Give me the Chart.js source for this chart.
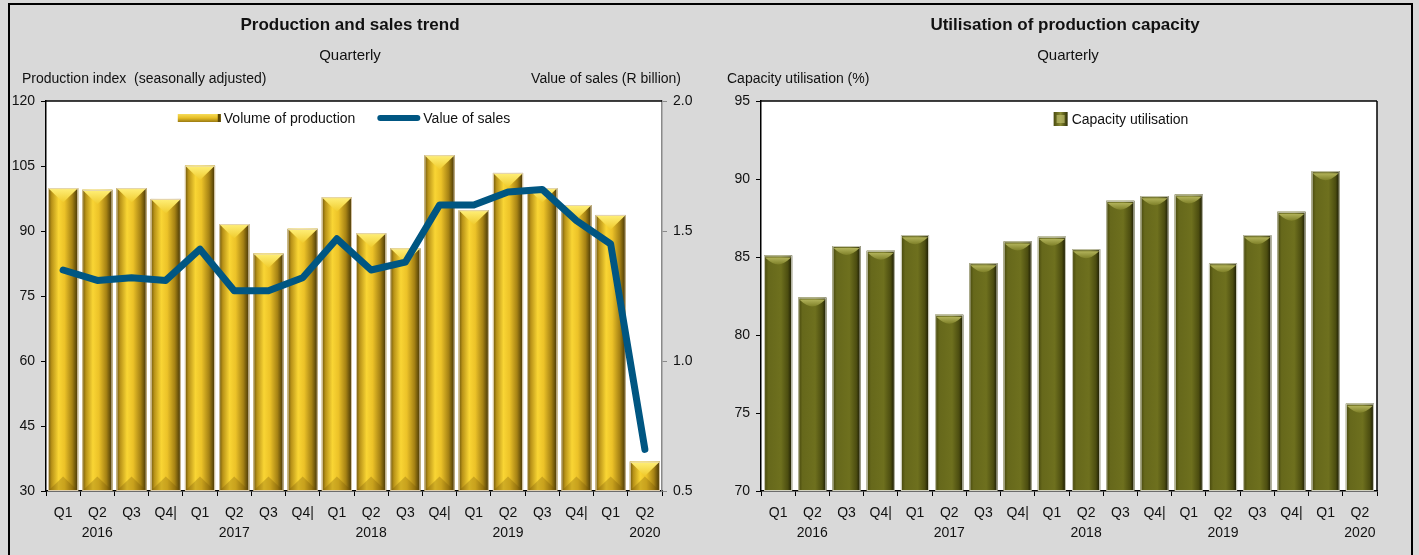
<!DOCTYPE html>
<html>
<head>
<meta charset="utf-8">
<script src="https://cdn.jsdelivr.net/npm/chart.js@4.4.0/dist/chart.umd.min.js"></script>
<style>
  body { margin: 0; width: 1419px; height: 555px; overflow: hidden; position: relative; background: #d9d9d9;
         font-family: "Liberation Sans Narrow", "Arial Narrow", Arial, sans-serif; color: #111; }
  .frame { position: absolute; left: 8px; top: 3px; width: 1401px; height: 600px; border: 2px solid #000; }
  .box { position: absolute; top: 0; height: 555px; }
  .t { position: absolute; white-space: nowrap; font-size: 14px; line-height: 16px; }
  .title { font-weight: bold; font-size: 17px; line-height: 20px; }
  .sub { font-size: 15px; line-height: 18px; }
</style>
</head>
<body>
<div class="frame"></div>
<div class="box" style="left:0;width:710px"><canvas id="prodChart" width="710" height="555"></canvas></div>
<div class="box" style="left:710px;width:709px"><canvas id="capChart" width="709" height="555"></canvas></div>

<div class="t title" style="left:350px;top:15px;transform:translateX(-50%)">Production and sales trend</div>
<div class="t sub" style="left:350px;top:46px;transform:translateX(-50%)">Quarterly</div>
<div class="t" style="left:22px;top:70px">Production index&nbsp; (seasonally adjusted)</div>
<div class="t" style="right:738px;top:70px">Value of sales (R billion)</div>

<div class="t title" style="left:1065px;top:15px;transform:translateX(-50%)">Utilisation of production capacity</div>
<div class="t sub" style="left:1068px;top:46px;transform:translateX(-50%)">Quarterly</div>
<div class="t" style="left:727px;top:70px">Capacity utilisation (%)</div>

<script>
const quarters = ["Q1", "Q2", "Q3", "Q4|", "Q1", "Q2", "Q3", "Q4|", "Q1", "Q2", "Q3", "Q4|",
                  "Q1", "Q2", "Q3", "Q4|", "Q1", "Q2"];
const years = ["2016", "2017", "2018", "2019", "2020"];

// production index (left axis) and value of sales in R billion (right axis)
const productionVolume = [99.9, 99.5, 99.9, 97.4, 105.1, 91.6, 84.8, 90.5, 97.8, 89.5, 86.0, 107.5,
                          94.8, 103.4, 99.9, 96.0, 93.7, 36.8];
const salesValue = [1.35, 1.31, 1.32, 1.31, 1.43, 1.27, 1.27, 1.32, 1.47, 1.35, 1.38, 1.60,
                    1.60, 1.65, 1.66, 1.54, 1.45, 0.66];
// capacity utilisation (%)
const capacityUtil = [85.1, 82.4, 85.7, 85.4, 86.4, 81.3, 84.6, 86.0, 86.3, 85.5, 88.6, 88.9,
                      89.0, 84.6, 86.4, 87.9, 90.5, 75.6];

const prodTicks = [30, 120, 15];
const salesTicks = [0.5, 2.0, 0.5];
const capTicks = [70, 95, 5];

const labels = quarters.map((q, i) => i % 4 === 1 ? [q, years[(i - 1) / 4]] : q);

const FONT = '"Liberation Sans Narrow", "Arial Narrow", Arial, sans-serif';
const tickFont = { family: FONT, size: 14 };

// white plot area with a frame
const plotFrame = {
  id: "plotFrame",
  beforeDraw(chart, args, opts) {
    const { ctx, chartArea: a } = chart;
    ctx.save();
    ctx.fillStyle = "#fff";
    ctx.fillRect(a.left, a.top, a.right - a.left, a.bottom - a.top);
    ctx.restore();
  },
  afterDraw(chart, args, opts) {
    const { ctx, chartArea: a } = chart;
    ctx.save();
    ctx.strokeStyle = "#000";
    ctx.lineWidth = 1.5;
    ctx.beginPath();
    ctx.moveTo(a.left, a.top);
    ctx.lineTo(a.right, a.top);
    ctx.stroke();
    if (opts.rightColor) {
      ctx.strokeStyle = opts.rightColor;
      ctx.beginPath();
      ctx.moveTo(a.right, a.top);
      ctx.lineTo(a.right, a.bottom);
      ctx.stroke();
    }
    ctx.restore();
  }
};

function goldBar(ctx, x, y, base, w) {
  const l = x - w / 2, r = x + w / 2, h = base - y;
  const g = ctx.createLinearGradient(l, 0, r, 0);
  g.addColorStop(0, "#6a540a");
  g.addColorStop(0.12, "#b89218");
  g.addColorStop(0.35, "#f9d534");
  g.addColorStop(0.55, "#ecc228");
  g.addColorStop(0.8, "#a68214");
  g.addColorStop(1, "#403104");
  ctx.fillStyle = g;
  ctx.fillRect(l, y, w, h);
  const d = Math.min(w * 0.48, h / 2);
  const cg = ctx.createLinearGradient(0, y, 0, y + d);
  cg.addColorStop(0, "#fff07a");
  cg.addColorStop(1, "#f0cb2c");
  ctx.fillStyle = cg;
  ctx.beginPath();
  ctx.moveTo(l, y); ctx.lineTo(r, y); ctx.lineTo(x, y + d); ctx.closePath();
  ctx.fill();
  ctx.fillStyle = "rgba(110, 80, 0, 0.28)";
  ctx.beginPath();
  ctx.moveTo(l, base); ctx.lineTo(r, base); ctx.lineTo(x, base - d); ctx.closePath();
  ctx.fill();
  ctx.strokeStyle = "rgba(225, 210, 180, 0.95)";
  ctx.lineWidth = 1;
  ctx.strokeRect(l + 0.5, y + 0.5, w - 1, h - 1);
}

function oliveBar(ctx, x, y, base, w) {
  const l = x - w / 2, r = x + w / 2, h = base - y;
  const g = ctx.createLinearGradient(l, 0, r, 0);
  g.addColorStop(0, "#45460c");
  g.addColorStop(0.15, "#66681b");
  g.addColorStop(0.6, "#6e701e");
  g.addColorStop(0.85, "#4c4d10");
  g.addColorStop(1, "#161602");
  ctx.fillStyle = g;
  ctx.fillRect(l, y, w, h);
  const d = Math.min(9, h / 2);
  const cg = ctx.createLinearGradient(0, y, 0, y + d);
  cg.addColorStop(0, "#c2c26a");
  cg.addColorStop(1, "#7e8028");
  ctx.fillStyle = cg;
  ctx.beginPath();
  ctx.moveTo(l + 1, y + 2);
  ctx.lineTo(r - 1, y + 2);
  ctx.quadraticCurveTo(x + w * 0.2, y + d, x, y + d);
  ctx.quadraticCurveTo(x - w * 0.2, y + d, l + 1, y + 2);
  ctx.closePath();
  ctx.fill();
  ctx.strokeStyle = "rgba(215, 215, 200, 0.95)";
  ctx.lineWidth = 1;
  ctx.strokeRect(l + 0.5, y + 0.5, w - 1, h - 1);
}

// repaint bars with a cylinder-like shading, using the bar elements' own geometry
const barShade = {
  id: "barShade",
  afterDatasetDraw(chart, args, opts) {
    const meta = args.meta;
    if (meta.type !== "bar") return;
    const { ctx, chartArea: a } = chart;
    ctx.save();
    ctx.beginPath();
    ctx.rect(a.left, a.top, a.right - a.left, a.bottom - a.top);
    ctx.clip();
    meta.data.forEach(el => {
      const p = el.getProps(["x", "y", "base", "width"], true);
      opts.paint(ctx, p.x, p.y, Math.min(p.base, a.bottom), p.width);
    });
    ctx.restore();
  }
};

// legend swatches
function goldSwatch(ctx, x, y, w, ds) {
  const g = ctx.createLinearGradient(0, y - 4, 0, y + 4);
  g.addColorStop(0, "#f6dc5a");
  g.addColorStop(0.5, "#e6bd24");
  g.addColorStop(1, "#9a7a12");
  ctx.fillStyle = g;
  ctx.fillRect(x, y - 4, w, 8);
  ctx.fillStyle = "#5a4606";
  ctx.fillRect(x + w - 3, y - 4, 3, 8);
}
function lineSwatch(ctx, x, y, w, ds) {
  ctx.strokeStyle = ds.borderColor;
  ctx.lineWidth = 6;
  ctx.lineCap = "round";
  ctx.beginPath();
  ctx.moveTo(x + 3, y);
  ctx.lineTo(x + w - 3, y);
  ctx.stroke();
}
function oliveSwatch(ctx, x, y, w, ds) {
  const g = ctx.createLinearGradient(x, 0, x + w, 0);
  g.addColorStop(0, "#4a4b10");
  g.addColorStop(0.5, "#8a8c34");
  g.addColorStop(1, "#2e2f06");
  ctx.fillStyle = g;
  ctx.fillRect(x, y - 7, w, 14);
  ctx.fillStyle = "rgba(190, 190, 110, 0.7)";
  ctx.fillRect(x + 3, y - 4, w - 6, 8);
}

// legend drawn inside the plot area, centred (with an offset)
const inLegend = {
  id: "inLegend",
  afterDraw(chart, args, opts) {
    const { ctx, chartArea: a } = chart;
    ctx.save();
    ctx.font = "14px " + FONT;
    ctx.textBaseline = "middle";
    const items = opts.items.map(it => Object.assign({ ds: chart.data.datasets[it.index] }, it));
    const widths = items.map(it => it.boxWidth + opts.gap + ctx.measureText(it.ds.label).width);
    const total = widths.reduce((s, w) => s + w, 0) + opts.spacing * (items.length - 1);
    let x = (a.left + a.right) / 2 - total / 2 + opts.dx;
    const y = a.top + opts.dy;
    items.forEach((it, k) => {
      it.swatch(ctx, x, y, it.boxWidth, it.ds);
      ctx.fillStyle = "#111";
      ctx.fillText(it.ds.label, x + it.boxWidth + opts.gap, y + 1);
      x += widths[k] + opts.spacing;
    });
    ctx.restore();
  }
};

function xScale() {
  return {
    grid: { display: true, drawOnChartArea: false, tickLength: 5, color: "#000", offset: true },
    border: { color: "#000", width: 1.5 },
    ticks: { color: "#111", font: { family: FONT, size: 14, lineHeight: 1.42 }, maxRotation: 0, autoSkip: false, padding: 7 },
    afterFit(s) { s.height = 64; }
  };
}

function yScale(t, width, position, color, fmt) {
  return {
    position: position,
    min: t[0], max: t[1],
    grid: { display: true, drawOnChartArea: false, tickLength: 5, color: color },
    border: { color: color, width: 1.5 },
    ticks: { stepSize: t[2], color: "#111", font: tickFont, padding: 6, callback: fmt },
    afterFit(s) { s.width = width; }
  };
}

new Chart(document.getElementById("prodChart"), {
  data: {
    labels: labels,
    datasets: [
      {
        type: "line",
        label: "Value of sales",
        data: salesValue,
        yAxisID: "y1",
        borderColor: "#005682",
        backgroundColor: "#005682",
        borderWidth: 7,
        borderCapStyle: "round",
        borderJoinStyle: "round",
        pointRadius: 0,
        tension: 0,
        order: 0
      },
      {
        type: "bar",
        label: "Volume of production",
        data: productionVolume,
        yAxisID: "y",
        backgroundColor: "#e3bd26",
        borderWidth: 0,
        barPercentage: 0.88,
        categoryPercentage: 1,
        order: 1
      }
    ]
  },
  options: {
    responsive: false,
    animation: false,
    devicePixelRatio: 1,
    layout: { padding: { top: 101, left: 0, right: 0, bottom: 0 } },
    scales: {
      x: xScale(),
      y: yScale(prodTicks, 46, "left", "#000"),
      y1: yScale(salesTicks, 48, "right", "#8a8a8a", v => v.toFixed(1))
    },
    plugins: {
      legend: { display: false },
      tooltip: { enabled: false },
      plotFrame: { rightColor: null },
      barShade: { paint: goldBar },
      inLegend: {
        dx: -10, dy: 17, gap: 3, spacing: 22,
        items: [
          { index: 1, boxWidth: 43, swatch: goldSwatch },
          { index: 0, boxWidth: 43, swatch: lineSwatch }
        ]
      }
    }
  },
  plugins: [plotFrame, barShade, inLegend]
});

new Chart(document.getElementById("capChart"), {
  type: "bar",
  data: {
    labels: labels,
    datasets: [
      {
        label: "Capacity utilisation",
        data: capacityUtil,
        backgroundColor: "#6a6c1c",
        borderWidth: 0,
        barPercentage: 0.82,
        categoryPercentage: 1
      }
    ]
  },
  options: {
    responsive: false,
    animation: false,
    devicePixelRatio: 1,
    layout: { padding: { top: 101, left: 0, right: 42, bottom: 0 } },
    scales: {
      x: xScale(),
      y: yScale(capTicks, 51, "left", "#000")
    },
    plugins: {
      legend: { display: false },
      tooltip: { enabled: false },
      plotFrame: { rightColor: "#000" },
      barShade: { paint: oliveBar },
      inLegend: {
        dx: 52, dy: 18, gap: 4, spacing: 20,
        items: [{ index: 0, boxWidth: 14, swatch: oliveSwatch }]
      }
    }
  },
  plugins: [plotFrame, barShade, inLegend]
});
</script>
</body>
</html>
